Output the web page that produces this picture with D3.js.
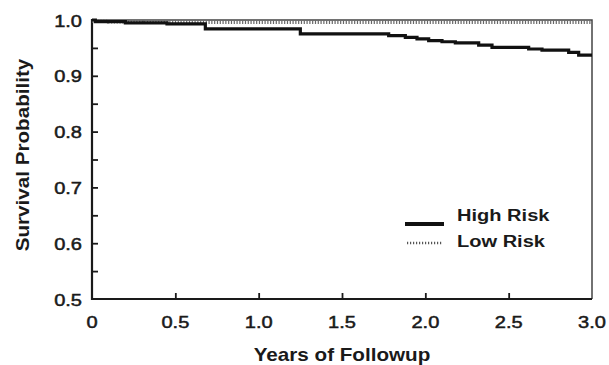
<!DOCTYPE html>
<html>
<head>
<meta charset="utf-8">
<script src="https://cdn.jsdelivr.net/npm/d3@7"></script>
<style>
  body { margin: 0; background: #fff; }
  svg { display: block; font-family: "Liberation Sans", Arial, sans-serif; }
</style>
</head>
<body>
<svg id="chart" width="609" height="365"></svg>
<script>
// Kaplan-Meier style step curves
var highTimes = [0, 0.02, 0.2, 0.45, 0.68, 1.25, 1.78, 1.88, 1.95, 2.02, 2.1, 2.18, 2.32, 2.4, 2.62, 2.7, 2.86, 2.92, 3.0];
var highSurv  = [1.0, 0.997, 0.995, 0.993, 0.984, 0.975, 0.972, 0.969, 0.966, 0.963, 0.961, 0.959, 0.955, 0.951, 0.948, 0.946, 0.942, 0.937, 0.937];
var lowTimes = [0, 0.1, 0.3, 3.0];
var lowSurv  = [0.998, 0.997, 0.996, 0.996];

var xTicks = [0, 0.5, 1.0, 1.5, 2.0, 2.5, 3.0];
var xTickLabels = ["0", "0.5", "1.0", "1.5", "2.0", "2.5", "3.0"];
var yTicks = [0.5, 0.6, 0.7, 0.8, 0.9, 1.0];
var yMinorTicks = [0.55, 0.65, 0.75, 0.85, 0.95];
var seriesNames = ["High Risk", "Low Risk"];

var svg = d3.select("#chart");
var plotL = 92, plotR = 592, plotT = 20, plotB = 299;

var x = d3.scaleLinear().domain([0, 3]).range([plotL, plotR]);
var y = d3.scaleLinear().domain([0.5, 1.0]).range([plotB, plotT]);

var ink = "#1a1a1a";

// frame (top + right)
svg.append("path")
  .attr("d", "M" + plotL + "," + plotT + "H" + plotR + "V" + plotB)
  .attr("fill", "none")
  .attr("stroke", "#444")
  .attr("stroke-width", 1.5);

// x axis, ticks pointing inward
var xAxis = svg.append("g")
  .attr("transform", "translate(0," + plotB + ")")
  .call(d3.axisTop(x).tickValues(xTicks.slice(1, 6)).tickSize(6).tickSizeOuter(0).tickFormat(""));
xAxis.select(".domain").attr("d", "M" + plotL + ",0H" + plotR);

// y axis, major + minor ticks inward
var yAxis = svg.append("g")
  .attr("transform", "translate(" + plotL + ",0)")
  .call(d3.axisRight(y).tickValues(yTicks.slice(1, 5).concat(yMinorTicks)).tickSize(6).tickSizeOuter(0).tickFormat(""));
yAxis.select(".domain").attr("d", "M0," + (plotT - 1) + "V" + (plotB + 1));

svg.selectAll(".domain").attr("stroke", ink).attr("stroke-width", 2.2);
svg.selectAll(".tick line").attr("stroke", ink).attr("stroke-width", 1.8);

function stretched(g, px, py, str, size, weight, anchor, rot) {
  return g.append("text")
    .attr("transform", "translate(" + px + "," + py + ")" + (rot ? " rotate(" + rot + ")" : "") + " scale(1.18,1)")
    .attr("text-anchor", anchor)
    .attr("font-size", size)
    .attr("font-weight", weight)
    .attr("fill", ink)
    .text(str);
}

// tick labels (slightly heavy, like the printed original)
xTicks.forEach(function (t, i) {
  stretched(svg, x(t), 328, xTickLabels[i], 17, "normal", "middle")
    .attr("stroke", ink).attr("stroke-width", 0.5);
});
yTicks.forEach(function (t) {
  stretched(svg, 82, y(t) + 6.5, d3.format(".1f")(t), 17, "normal", "end")
    .attr("stroke", ink).attr("stroke-width", 0.5);
});

// axis titles
stretched(svg, (plotL + plotR) / 2, 361, "Years of Followup", 17.5, "bold", "middle");
stretched(svg, 29, 155, "Survival Probability", 17.5, "bold", "middle", -90);

// curves
var line = d3.line()
  .x(function (d) { return x(d[0]); })
  .y(function (d) { return y(d[1]); })
  .curve(d3.curveStepAfter);

svg.append("path")
  .datum(d3.zip(lowTimes, lowSurv))
  .attr("d", line)
  .attr("fill", "none")
  .attr("stroke", "#666")
  .attr("stroke-width", 3.5)
  .attr("stroke-dasharray", "1.2,1.6");

svg.append("path")
  .datum(d3.zip(highTimes, highSurv))
  .attr("d", line)
  .attr("fill", "none")
  .attr("stroke", "#111")
  .attr("stroke-width", 3.2);

// legend
var legend = svg.append("g");
legend.append("line")
  .attr("x1", 405).attr("x2", 444).attr("y1", 224).attr("y2", 224)
  .attr("stroke", "#111").attr("stroke-width", 4);
legend.append("line")
  .attr("x1", 407).attr("x2", 443).attr("y1", 243).attr("y2", 243)
  .attr("stroke", "#555").attr("stroke-width", 2.5).attr("stroke-dasharray", "1.2,1.8");
stretched(legend, 457, 221, seriesNames[0], 17, "bold", "start");
stretched(legend, 457, 247, seriesNames[1], 17, "bold", "start");
</script>
</body>
</html>
